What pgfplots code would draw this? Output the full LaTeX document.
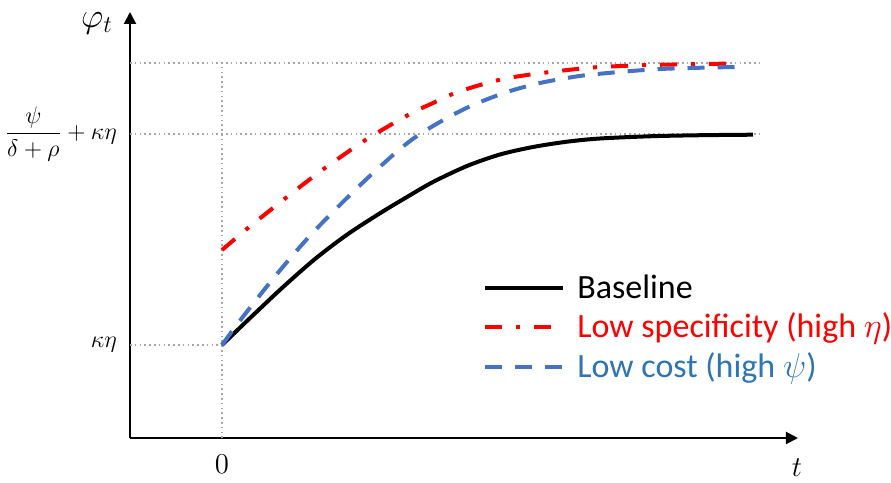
\documentclass[border=0pt]{standalone}
\usepackage{amsmath}
\usepackage{fontspec}
\setmainfont{Carlito}
\usepackage{pgfplots}
\pgfplotsset{compat=1.18}
\usetikzlibrary{arrows.meta}
\definecolor{lineblue}{HTML}{4472C4}
\definecolor{textblue}{HTML}{2E75B6}
\definecolor{dotgray}{HTML}{A6A6A6}
\begin{document}
\begin{tikzpicture}
\begin{axis}[
  scale only axis, width=334pt, height=213pt,
  xmin=-92, xmax=576, ymin=0, ymax=426,
  axis lines=left,
  axis line style={line width=1pt, -{Triangle[length=6pt,width=6pt]}},
  xtick={0}, xticklabels={$0$},
  ytick={93,304}, yticklabels={$\kappa\eta$,$\dfrac{\psi}{\delta+\rho}+\kappa\eta$},
  major tick length=0pt,
  xticklabel style={font=\fontsize{13.5}{16}\selectfont, yshift=-5pt},
  yticklabel style={font=\fontsize{12}{14}\selectfont, xshift=-3pt},
  clip=false,
  legend style={at={(axis cs:261,167)}, anchor=north west, draw=none, fill=none,
    font=\fontsize{17}{20}\selectfont, row sep=3pt, inner sep=0pt,
    nodes={inner xsep=6pt, inner ysep=1.5pt}},
  legend cell align=left,
  legend image code/.code={\draw[#1] (0pt,0pt) -- (39pt,0pt);},
]
% dotted guide lines
\addplot[forget plot, dotgray, line width=0.8pt, dash pattern=on 0.8pt off 1.6pt] coordinates {(-92,375) (538,375)};
\addplot[forget plot, dotgray, line width=0.8pt, dash pattern=on 0.8pt off 1.6pt] coordinates {(-92,304) (540,304)};
\addplot[forget plot, dotgray, line width=0.8pt, dash pattern=on 0.8pt off 1.6pt] coordinates {(-92,93) (0,93)};
\addplot[forget plot, dotgray, line width=0.8pt, dash pattern=on 0.8pt off 1.6pt] coordinates {(0,0) (0,375)};
% curves
\addplot[black, line width=2pt, smooth] coordinates {
 (0,93) (26,118) (60,150) (93,179) (126,204) (160,226) (185,241) (211,256) (245,272) (278,283.5) (311,291) (345,296.3) (378,299.5) (430,301.8) (480,302.8) (531,303.3)};
\addlegendentry{Baseline}
\addplot[red, line width=2pt, smooth, dash pattern=on 8.5pt off 7pt on 2pt off 7pt] coordinates {
 (0,188) (26,210) (46,226) (65,241) (83,255) (103,270) (145,299) (188,324) (211,335) (233,345) (258,353) (281,359) (305,363) (328,366) (355,369) (378,371) (428,373) (513,374.5)};
\addlegendentry{\textcolor{red}{Low specificity (high $\eta$)}}
\addplot[lineblue, line width=2pt, smooth, dash pattern=on 8.5pt off 6.5pt] coordinates {
 (0,93) (20,120) (46,153) (65,176) (85,199) (103,218) (130,245) (150,264) (178,289) (198,304) (225,320) (251,333) (285,346) (318,355) (351,361) (375,364) (438,369) (513,371)};
\addlegendentry{\textcolor{textblue}{Low cost (high $\psi$)}}
\node[font=\fontsize{17}{19}\selectfont] at (axis cs:-125,415) {$\varphi_t$};
\node[font=\fontsize{14}{16}\selectfont] at (axis cs:575,-30) {$t$};
\coordinate (bl) at (axis cs:-222,-45);
\coordinate (tr) at (axis cs:669,438);
\end{axis}
\pgfresetboundingbox
\path[use as bounding box] (bl) rectangle (tr);
\end{tikzpicture}
\end{document}
